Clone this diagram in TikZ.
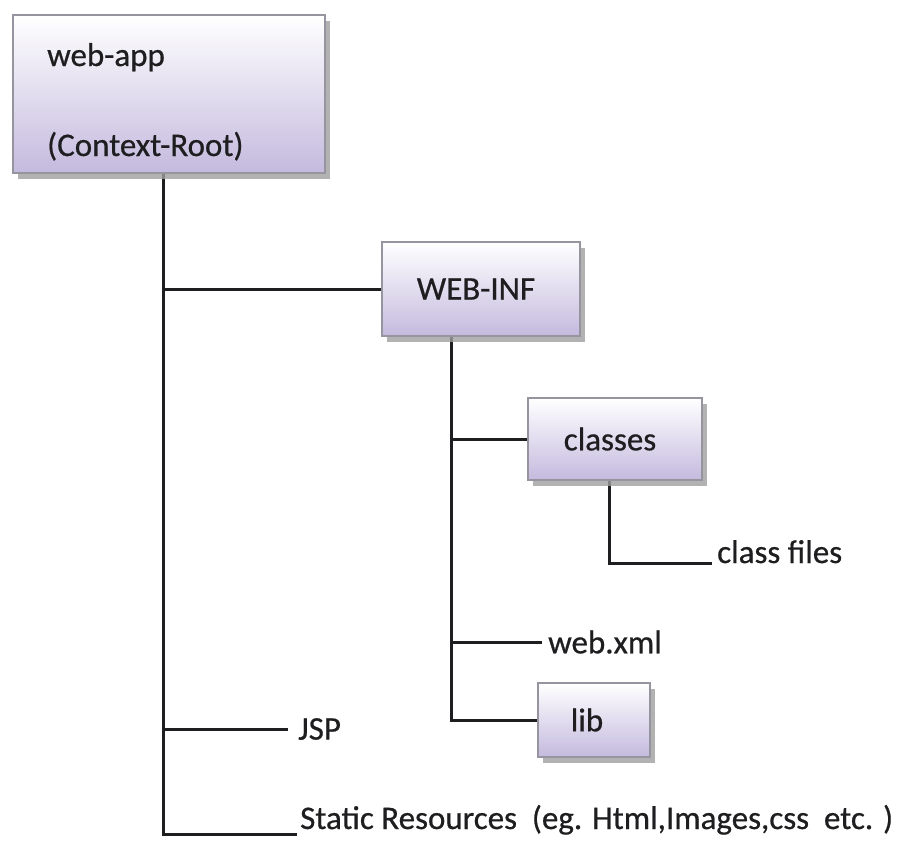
\documentclass[tikz,border=0pt]{standalone}
\usepackage{fontspec}
\setmainfont{Carlito}[FakeBold=0.6]
\usetikzlibrary{positioning,calc,shadows,backgrounds}
\definecolor{lav}{RGB}{196,186,222}
\definecolor{boxline}{RGB}{150,148,158}
\definecolor{ink}{RGB}{30,30,32}

\begin{document}
\begin{tikzpicture}[x=1pt, y=-1pt, font=\fontsize{33}{38}\selectfont,
  box/.style={draw=boxline, line width=1.2pt, top color=white, bottom color=lav, text=ink,
    drop shadow={shadow xshift=5pt, shadow yshift=-6pt, fill=gray!75, opacity=0.8}},
  lbl/.style={text=ink, inner sep=0pt},
  tree/.style={draw=ink, line width=3pt}]
\useasboundingbox (0,0) rectangle (920,852);
\node[box, minimum width=312pt, minimum height=158pt] (webapp) at (169,94) {};
\node[lbl, anchor=base west] (appname) at (47,66) {web-app};
\node[lbl, anchor=base west] (ctxroot) at (47,156) {(Context-Root)};
\node[box, minimum width=198pt, minimum height=94pt] (webinf) at (481,289) {\hspace*{-10pt}WEB-INF};
\node[box, minimum width=174pt, minimum height=82pt] (classes) at (615,439) {\hspace*{-10pt}classes};
\node[box, minimum width=112pt, minimum height=74pt] (lib) at (594,720) {\hspace*{-14pt}lib};
\node[lbl, anchor=base west] (classfiles) at (717,563) {class files};
\node[lbl, anchor=west] (webxml) at (548,642) {web.xml};
\node[lbl, anchor=west] (jsp) at (298,729) {JSP};
\node[lbl, anchor=base west] (static) at (300,829) {Static Resources\ \ (eg. Html,Images,css\ \ etc. )};
\begin{scope}[on background layer]
\fill[white] (0,0) rectangle (920,852);
\draw[tree] ([xshift=-6pt]webapp.south) |- ([xshift=-3pt,yshift=-5pt]static.base west);
\draw[tree] ([xshift=-6pt]webapp.south |- webinf.west) -- (webinf.west);
\draw[tree] ([xshift=-6pt]webapp.south |- jsp.west) -- ([xshift=-10pt]jsp.west);
\draw[tree] ([xshift=-30pt]webinf.south) |- (lib.west);
\draw[tree] ([xshift=-30pt]webinf.south |- classes.west) -- (classes.west);
\draw[tree] ([xshift=-30pt]webinf.south |- webxml.west) -- ([xshift=-6pt]webxml.west);
\draw[tree] ([xshift=-6pt]classes.south) |- ([xshift=-5pt]classfiles.base west);
\end{scope}
\end{tikzpicture}
\end{document}
